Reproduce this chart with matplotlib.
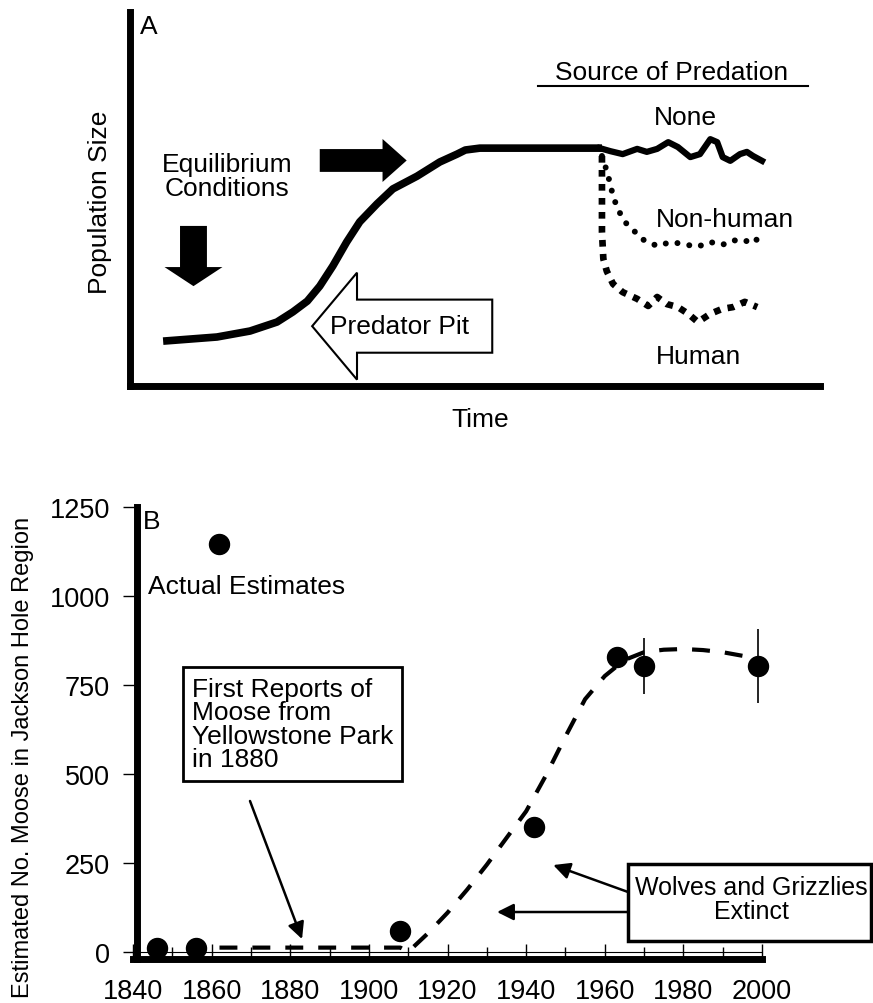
import matplotlib
matplotlib.use("Agg")
import matplotlib.pyplot as plt
from matplotlib.patches import FancyArrow, Rectangle
from matplotlib.lines import Line2D

plt.rcParams["font.family"] = ["Liberation Sans", "DejaVu Sans"]

W, H = 873, 1004

# ---- Panel A: conceptual curves (time 0-100, population 0-100) ----
main_t = [4.8, 12.6, 17.4, 21.3, 23.6, 25.7, 27.5, 29.4, 31.4, 33.3, 35.8,
          38.1, 41.6, 44.9, 47.4, 48.6, 50.7, 59.4, 68.4]
main_p = [12.0, 13.1, 14.7, 17.1, 19.8, 22.7, 26.7, 32.1, 38.5, 43.9, 48.7,
          52.7, 56.1, 59.9, 62.0, 63.1, 63.6, 63.6, 63.6]

none_t = [68.1, 69.6, 71.4, 73.5, 74.9, 76.4, 78.0, 79.4, 81.2, 82.6, 84.1,
          85.1, 85.9, 87.0, 88.4, 89.4, 90.3, 91.6]
none_p = [63.6, 62.8, 62.0, 63.4, 62.6, 63.4, 65.2, 63.9, 61.2, 62.0, 66.0,
          65.2, 61.2, 60.2, 62.0, 62.6, 61.5, 60.2]

nonhuman_t = [68.4, 69.1, 69.6, 70.0, 70.7, 71.7, 73.2, 74.6, 76.5, 78.3,
              80.1, 82.2, 84.1, 85.8, 87.4, 89.1, 90.3, 91.6]
nonhuman_p = [61.5, 57.5, 54.0, 50.8, 47.3, 43.9, 41.2, 38.8, 37.4, 38.5,
              38.0, 37.2, 38.5, 37.7, 39.0, 38.5, 39.8, 38.0]

human_t = [68.4, 68.4, 68.4, 68.6, 69.1, 70.0, 71.4, 73.5, 75.1, 76.4, 77.8,
           79.4, 80.9, 82.3, 84.1, 85.8, 87.4, 89.1, 90.9]
human_p = [61.5, 52.7, 41.2, 34.0, 30.7, 27.3, 25.1, 23.3, 21.4, 23.8, 21.9,
           21.1, 19.3, 17.1, 19.3, 20.6, 21.1, 22.5, 21.1]

# ---- Panel B: moose estimates ----
est_year = [1846, 1856, 1862, 1908, 1942, 1963, 1970, 1999]
est_moose = [10, 10, 1145, 60, 350, 828, 803, 803]
est_err = [0, 0, 0, 0, 0, 0, 78, 105]

fit_year = [1862, 1908, 1910, 1915, 1920, 1925, 1930, 1935, 1940, 1945, 1950,
            1955, 1960, 1965, 1970, 1975, 1980, 1985, 1990, 1995, 1998]
fit_moose = [12, 12, 0, 52, 110, 175, 245, 320, 395, 495, 605,
             710, 775, 820, 842, 849, 851, 848, 842, 832, 826]

year_ticks = list(range(1840, 2001, 20))
moose_ticks = [0, 250, 500, 750, 1000, 1250]


def px(x, y):
    return (x / W, 1 - y / H)


fig = plt.figure(figsize=(W / 100, H / 100), dpi=100)
fs = 19

# === Panel A ===
axA = fig.add_axes([130 / W, 1 - 387 / H, 690 / W, 374 / H])
axA.set_xlim(0, 100)
axA.set_ylim(0, 100)
for s in ["top", "right"]:
    axA.spines[s].set_visible(False)
for s in ["left", "bottom"]:
    axA.spines[s].set_linewidth(5)
    axA.spines[s].set_capstyle("projecting")
axA.set_xticks([])
axA.set_yticks([])

axA.plot(main_t, main_p, color="black", lw=5.5, solid_capstyle="butt")
axA.plot(none_t, none_p, color="black", lw=4.5)
axA.plot(nonhuman_t, nonhuman_p, color="black", lw=4.3,
         dashes=(0.01, 2.0), dash_capstyle="round")
axA.plot(human_t, human_p, color="black", lw=4.8,
         dashes=(1.0, 1.1), dash_capstyle="butt")

# filled arrows
axA.add_patch(FancyArrow(9.2, 42.8, 0, -16.1, width=3.9, head_width=8.4,
                         head_length=5.1, length_includes_head=True,
                         color="black", lw=0))
axA.add_patch(FancyArrow(27.5, 60.3, 12.6, 0, width=6.1, head_width=11.5,
                         head_length=3.5, length_includes_head=True,
                         color="black", lw=0))
# hollow arrow
axA.add_patch(FancyArrow(52.5, 16.0, -26.1, 0, width=14.2, head_width=28.6,
                         head_length=6.5, length_includes_head=True,
                         facecolor="white", edgecolor="black", lw=1.5))

fig.text(*px(140, 27), "A", fontsize=fs, ha="left", va="center")
fig.text(*px(227, 177), "Equilibrium\nConditions", fontsize=fs,
         ha="center", va="center", linespacing=0.95)
fig.text(*px(400, 327), "Predator Pit", fontsize=fs, ha="center", va="center")
fig.text(*px(672, 73), "Source of Predation", fontsize=fs, ha="center",
         va="center")
fig.add_artist(Line2D([538 / W, 808 / W], [1 - 87 / H, 1 - 87 / H],
                      color="black", lw=1.5))
fig.text(*px(685, 118), "None", fontsize=fs, ha="center", va="center")
fig.text(*px(725, 220), "Non-human", fontsize=fs, ha="center", va="center")
fig.text(*px(698, 357), "Human", fontsize=fs, ha="center", va="center")
fig.text(*px(100, 202), "Population Size", fontsize=fs, ha="center",
         va="center", rotation=90)
fig.text(*px(480, 420), "Time", fontsize=fs, ha="center", va="center")

# === Panel B ===
axB = fig.add_axes([133 / W, 1 - 960 / H, 629 / W, 452 / H])
axB.set_xlim(1840, 2000)
axB.set_ylim(-20, 1250)
for s in ["top", "right"]:
    axB.spines[s].set_visible(False)
axB.spines["left"].set_position(("data", 1840.9))
axB.spines["left"].set_linewidth(5)
axB.spines["bottom"].set_linewidth(5)
axB.axhline(0, color="black", lw=0.8)

axB.set_xticks(year_ticks)
axB.set_xticks(list(range(1850, 2000, 20)), minor=True)
axB.set_yticks(moose_ticks)
axB.tick_params(axis="x", which="major", direction="in", length=11, width=1,
                labelsize=19.5, pad=14)
axB.tick_params(axis="x", which="minor", direction="in", length=9, width=1)
axB.tick_params(axis="y", direction="out", length=10, width=1,
                labelsize=19.5, pad=9)

axB.plot(fit_year, fit_moose, color="black", lw=3, dashes=(4.3, 3.6),
         dash_capstyle="butt")
axB.errorbar(est_year, est_moose, yerr=est_err, fmt="o", color="black",
             ms=14.4, elinewidth=1.2, capsize=0, clip_on=False, zorder=5)

fig.text(*px(143, 522), "B", fontsize=fs, ha="left", va="center")
fig.text(*px(148, 587), "Actual Estimates", fontsize=fs, ha="left",
         va="center")
fig.text(*px(23, 757), "Estimated No. Moose in Jackson Hole Region",
         fontsize=17, ha="center", va="center", rotation=90)

# text boxes
fig.add_artist(Rectangle(px(183, 782), 219 / W, 114 / H, fill=False,
                         edgecolor="black", lw=2, transform=fig.transFigure))
fig.text(*px(192, 725), "First Reports of\nMoose from\nYellowstone Park\nin 1880",
         fontsize=fs, ha="left", va="center", linespacing=0.95)
fig.add_artist(Rectangle(px(628, 942), 243 / W, 77 / H, fill=False,
                         edgecolor="black", lw=2.5, transform=fig.transFigure))
fig.text(*px(751, 900), "Wolves and Grizzlies\nExtinct", fontsize=18,
         ha="center", va="center", linespacing=0.95)

arrow = dict(arrowstyle="-|>,head_length=0.5,head_width=0.25",
             mutation_scale=20, color="black", lw=1.8, shrinkA=0, shrinkB=0)
axB.annotate("", xy=(1883, 36), xytext=px(250, 802),
             textcoords="figure fraction", arrowprops=arrow)
axB.annotate("", xy=(1946.9, 244), xytext=px(628, 893),
             textcoords="figure fraction", arrowprops=arrow)
axB.annotate("", xy=(1932.6, 112), xytext=px(628, 913),
             textcoords="figure fraction", arrowprops=arrow)

fig.savefig("out.png", dpi=100)
